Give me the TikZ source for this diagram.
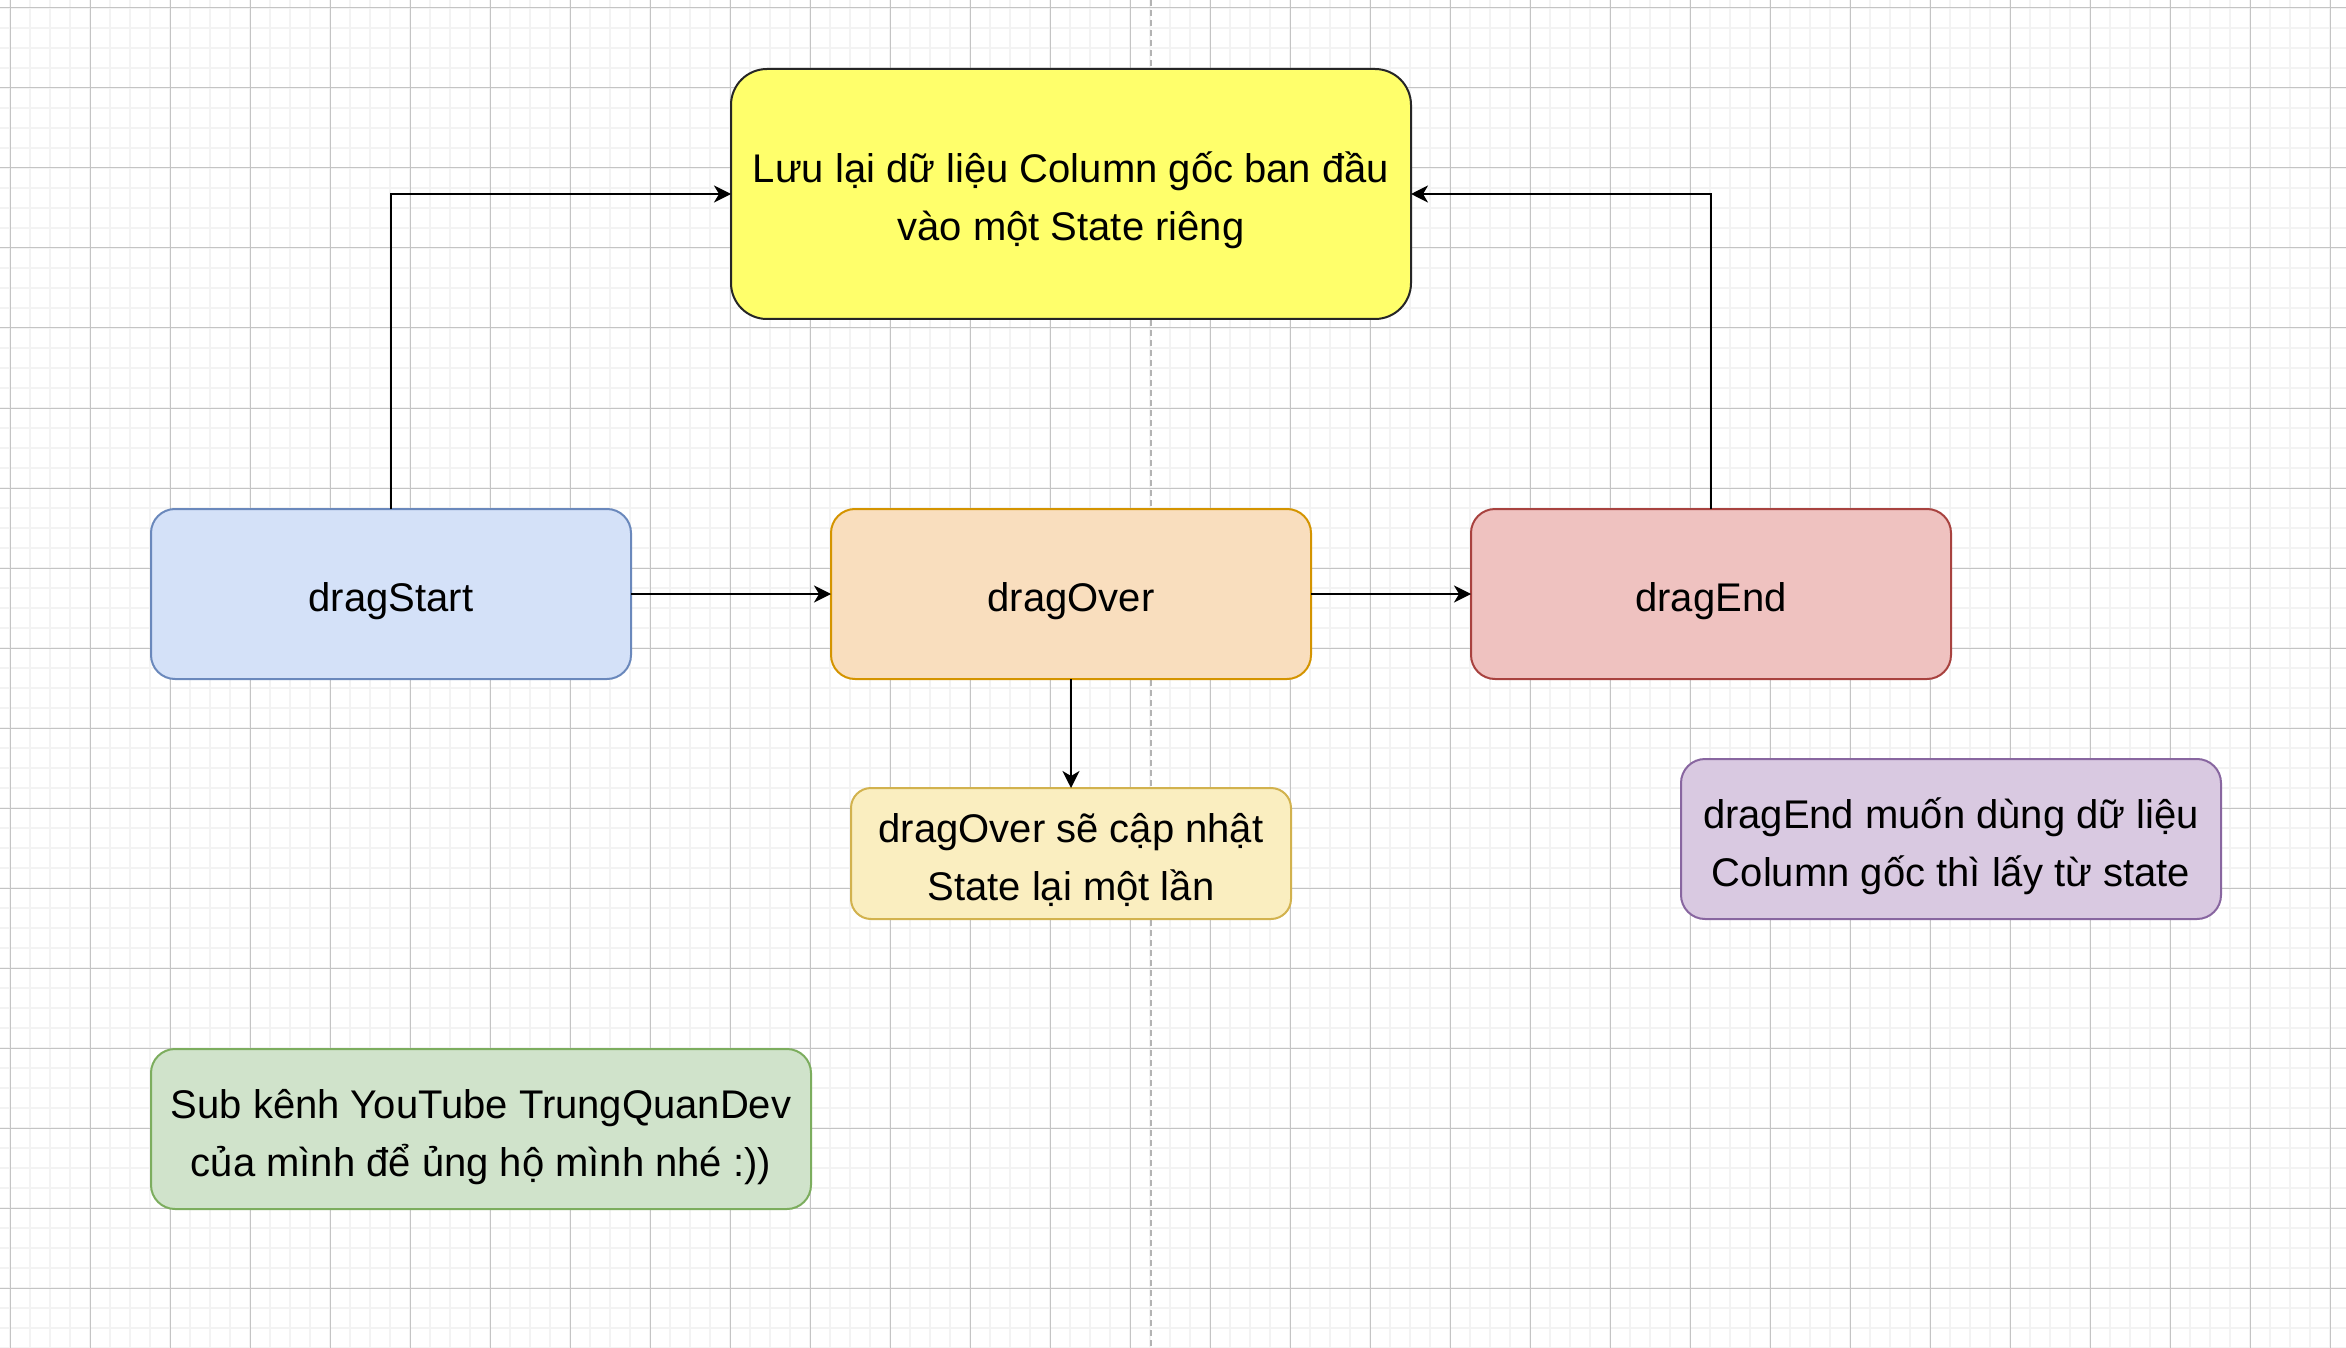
\documentclass[tikz,border=0pt]{standalone}
\usepackage{fontspec}
\setmainfont{Liberation Sans}
\usetikzlibrary{arrows.meta}
\definecolor{gridminor}{HTML}{F3F3F3}
\definecolor{gridmajor}{HTML}{C4C4C4}
\definecolor{pagebreak}{HTML}{B3B3B3}
\definecolor{yelfill}{HTML}{FFFF6B}
\definecolor{yeldraw}{HTML}{262626}
\definecolor{bluefill}{HTML}{D4E1F8}
\definecolor{bluedraw}{HTML}{6A88BC}
\definecolor{orgfill}{HTML}{F9DEBE}
\definecolor{orgdraw}{HTML}{D49400}
\definecolor{redfill}{HTML}{EFC2C0}
\definecolor{reddraw}{HTML}{A8423F}
\definecolor{notefill}{HTML}{FAEEC0}
\definecolor{notedraw}{HTML}{D2B24E}
\definecolor{purfill}{HTML}{D9C9E1}
\definecolor{purdraw}{HTML}{8866A0}
\definecolor{grnfill}{HTML}{D0E3CB}
\definecolor{grndraw}{HTML}{7CAD5E}
\tikzset{
  base/.style={rectangle, line width=1pt, inner sep=0pt, outer sep=0pt,
    align=center, text=black, font=\fontsize{20pt}{29pt}\selectfont},
  oneline/.style={base, text height=17.5pt, text depth=0pt},
  twoline/.style={base, text height=47pt, text depth=0pt},
  conn/.style={line width=1.1pt, draw=black, -{Stealth[length=8.5pt, width=8.5pt, inset=2.5pt]}},
  minorline/.style={draw=gridminor, line width=1pt},
  majorline/.style={draw=gridmajor, line width=0.5pt},
  breakline/.style={draw=pagebreak, line width=1pt, dash pattern=on 3pt off 2pt}
}
\begin{document}
\begin{tikzpicture}[x=0.5pt, y=-0.5pt]
\useasboundingbox (0,0) rectangle (2346,1348);
\fill[white] (0,0) rectangle (2346,1348);
% grid
\foreach \gx in {10,30,...,2340} \draw[minorline] (\gx,0) -- (\gx,1348);
\foreach \gy in {8,28,...,1348} \draw[minorline] (0,\gy) -- (2346,\gy);
\foreach \gx in {10,90,...,2340} \draw[majorline] (\gx,0) -- (\gx,1348);
\foreach \gy in {8,88,...,1348} \draw[majorline] (0,\gy) -- (2346,\gy);
% page break
\coordinate (pbtop) at (1151,0);
\coordinate (pbbot) at (1151,1348);
\draw[breakline] (pbtop) -- (pbbot);
% nodes
\node[twoline, draw=yeldraw, fill=yelfill, rounded corners=18pt,
  minimum width=340pt, minimum height=125pt] (yel) at (1071,194)
  {Lưu lại dữ liệu Column gốc ban đầu\\vào một State riêng};
\node[oneline, draw=bluedraw, fill=bluefill, rounded corners=12pt,
  minimum width=240pt, minimum height=85pt] (ds) at (391,594) {dragStart};
\node[oneline, draw=orgdraw, fill=orgfill, rounded corners=12pt,
  minimum width=240pt, minimum height=85pt] (dov) at (1071,594) {dragOver};
\node[oneline, draw=reddraw, fill=redfill, rounded corners=12pt,
  minimum width=240pt, minimum height=85pt] (de) at (1711,594) {dragEnd};
\node[twoline, draw=notedraw, fill=notefill, rounded corners=10pt,
  minimum width=220pt, minimum height=65.5pt] (nov) at (1071,853.5)
  {dragOver sẽ cập nhật\\State lại một lần};
\node[twoline, draw=purdraw, fill=purfill, rounded corners=12pt,
  minimum width=270pt, minimum height=80pt] (nde) at (1951,839)
  {dragEnd muốn dùng dữ liệu\\Column gốc thì lấy từ state};
\node[twoline, draw=grndraw, fill=grnfill, rounded corners=12pt,
  minimum width=330pt, minimum height=80pt] (sub) at (481,1129)
  {Sub kênh YouTube TrungQuanDev\\của mình để ủng hộ mình nhé :))};
% connectors
\draw[conn] (ds.north) |- (yel.west);
\draw[conn] (de.north) |- (yel.east);
\draw[conn] (ds.east) -- (dov.west);
\draw[conn] (dov.east) -- (de.west);
\draw[conn] (dov.south) -- (nov.north);
\end{tikzpicture}
\end{document}
